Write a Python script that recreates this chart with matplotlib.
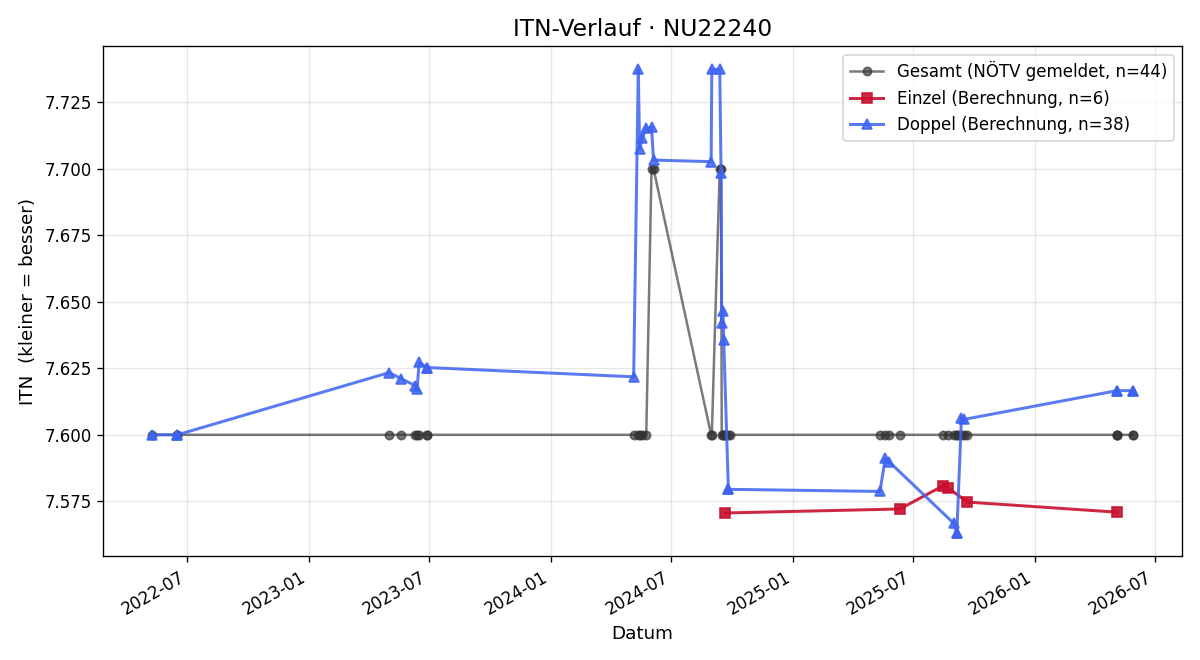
import numpy as np
import pandas as pd
import matplotlib
matplotlib.use("Agg")
import matplotlib.pyplot as plt
import matplotlib.dates as mdates

# Gesamt (reported value), one entry per match date
gesamt_dates = ["2022-05-09", "2022-06-16", "2022-06-16",
                "2023-05-02", "2023-05-20", "2023-06-10", "2023-06-13", "2023-06-16", "2023-06-28", "2023-06-28",
                "2024-05-05", "2024-05-12", "2024-05-14", "2024-05-18", "2024-05-24",
                "2024-06-01", "2024-06-04",
                "2024-08-30", "2024-08-31",
                "2024-09-12", "2024-09-14",
                "2024-09-15", "2024-09-17", "2024-09-18", "2024-09-20", "2024-09-25", "2024-09-28",
                "2025-05-12", "2025-05-20", "2025-05-26", "2025-06-11",
                "2025-08-15", "2025-08-23", "2025-08-31", "2025-09-05", "2025-09-05", "2025-09-12", "2025-09-16", "2025-09-21",
                "2026-05-05", "2026-05-05", "2026-05-05", "2026-05-29", "2026-05-29"]
gesamt_vals = [7.6, 7.6, 7.6,
               7.6, 7.6, 7.6, 7.6, 7.6, 7.6, 7.6,
               7.6, 7.6, 7.6, 7.6, 7.6,
               7.7, 7.7,
               7.6, 7.6,
               7.7, 7.7,
               7.6, 7.6, 7.6, 7.6, 7.6, 7.6,
               7.6, 7.6, 7.6, 7.6,
               7.6, 7.6, 7.6, 7.6, 7.6, 7.6, 7.6, 7.6,
               7.6, 7.6, 7.6, 7.6, 7.6]

# Einzel (calculated)
einzel_dates = ["2024-09-20", "2025-06-11", "2025-08-15", "2025-08-23", "2025-09-21", "2026-05-05"]
einzel_vals = [7.5706, 7.5721, 7.5808, 7.5800, 7.5747, 7.5709]

# Doppel (calculated)
doppel_dates = ["2022-05-09", "2022-06-16", "2022-06-16",
                "2023-05-02", "2023-05-20", "2023-06-10", "2023-06-13", "2023-06-16", "2023-06-28", "2023-06-28",
                "2024-05-05", "2024-05-12", "2024-05-14", "2024-05-18", "2024-05-24", "2024-06-01", "2024-06-04",
                "2024-08-30", "2024-08-31", "2024-09-12", "2024-09-14", "2024-09-15", "2024-09-17", "2024-09-18",
                "2024-09-25", "2024-09-25",
                "2025-05-12", "2025-05-20", "2025-05-26", "2025-08-31", "2025-09-05", "2025-09-05",
                "2025-09-12", "2025-09-16",
                "2026-05-05", "2026-05-05", "2026-05-29", "2026-05-29"]
doppel_vals = [7.600, 7.600, 7.600,
               7.6234, 7.6211, 7.6185, 7.6172, 7.6272, 7.6253, 7.6253,
               7.6218, 7.7374, 7.7075, 7.7115, 7.7152, 7.7157, 7.7033,
               7.7027, 7.7374, 7.7374, 7.6985, 7.6420, 7.6465, 7.6355,
               7.5795, 7.5795,
               7.5787, 7.5913, 7.5898, 7.5668, 7.5630, 7.5630,
               7.6064, 7.6058,
               7.6166, 7.6166, 7.6166, 7.6166]

fig, ax = plt.subplots(figsize=(10, 5.5), dpi=120)

ax.plot(pd.to_datetime(gesamt_dates), gesamt_vals, marker='o', color='#333333', alpha=0.65,
        lw=1.5, ms=5, label=f"Gesamt (NÖTV gemeldet, n={len(gesamt_vals)})")
ax.plot(pd.to_datetime(einzel_dates), einzel_vals, marker='s', color='#c8102e', alpha=0.9,
        lw=1.8, ms=6, label=f"Einzel (Berechnung, n={len(einzel_vals)})")
ax.plot(pd.to_datetime(doppel_dates), doppel_vals, marker='^', color='#3d63f0', alpha=0.85,
        lw=1.8, ms=6, label=f"Doppel (Berechnung, n={len(doppel_vals)})")

ax.set_title("ITN-Verlauf · NU22240", fontsize=14)
ax.set_xlabel("Datum", fontsize=11)
ax.set_ylabel("ITN  (kleiner = besser)", fontsize=11)
ax.xaxis.set_major_locator(mdates.MonthLocator(bymonth=[1, 7]))
ax.xaxis.set_major_formatter(mdates.DateFormatter("%Y-%m"))
ax.grid(True, alpha=0.3)
ax.legend(loc='upper right', fontsize=10)
fig.autofmt_xdate()
fig.subplots_adjust(left=0.086, right=0.985, top=0.930, bottom=0.157)
fig.savefig("out.png")
